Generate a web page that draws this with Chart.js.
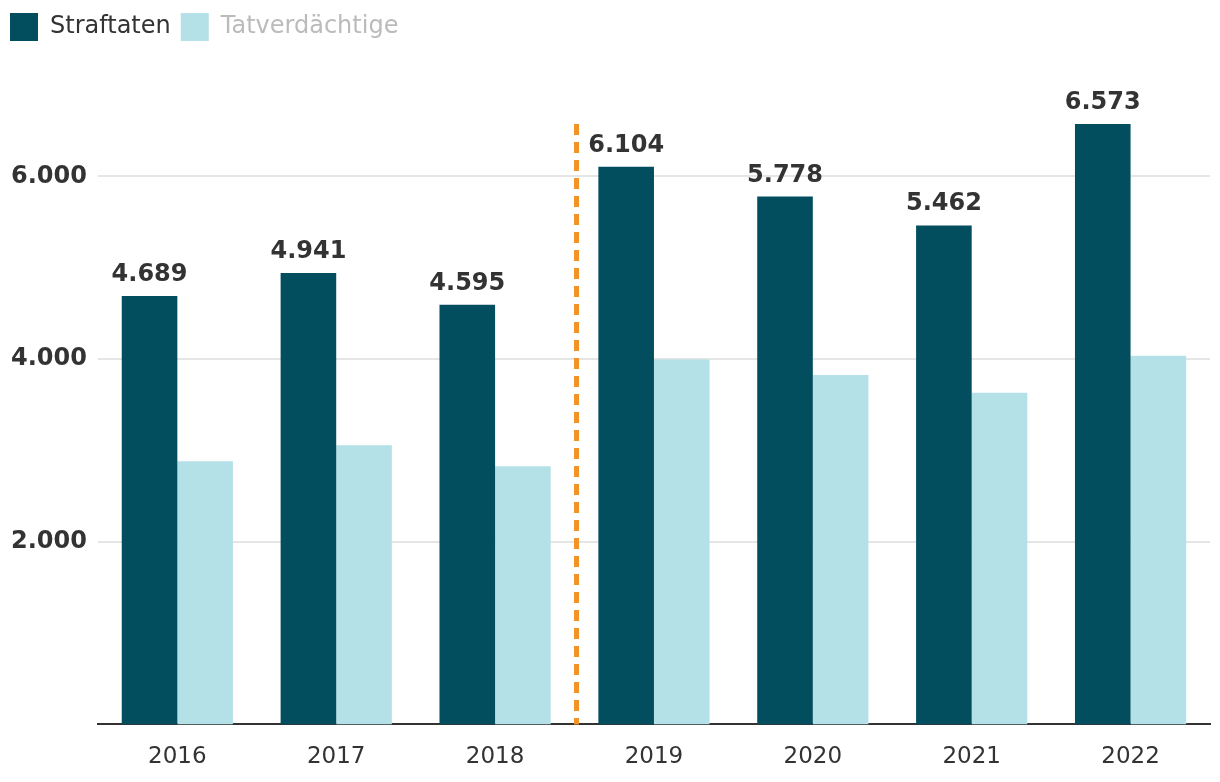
<!DOCTYPE html>
<html>
<head>
<meta charset="utf-8">
<script src="https://cdn.jsdelivr.net/npm/chart.js@4/dist/chart.umd.min.js"></script>
<style>
  html, body { margin: 0; padding: 0; background: #fff; }
  #wrap { width: 1220px; height: 782px; }
</style>
</head>
<body>
<div id="wrap"><canvas id="chart"></canvas></div>
<script>
const years = ['2016', '2017', '2018', '2019', '2020', '2021', '2022'];
const straftaten = [4689, 4941, 4595, 6104, 5778, 5462, 6573];
const tatverdaechtige = [2880, 3055, 2825, 3995, 3825, 3630, 4035];
const yTicks = [2000, 4000, 6000];

const DARK = '#024e5f';
const LIGHT = '#b3e1e7';
const TEXT = '#333333';

// German thousands separator
const fmt = n => String(n).replace(/\B(?=(\d{3})+(?!\d))/g, '.');

// extra space under the legend
const legendMargin = {
  id: 'legendMargin',
  beforeInit(chart) {
    const fit = chart.legend.fit;
    chart.legend.fit = function () {
      fit.bind(chart.legend)();
      this.height += 73;
    };
  }
};

// value labels above the dark bars
const valueLabels = {
  id: 'valueLabels',
  afterDatasetsDraw(chart) {
    const { ctx } = chart;
    const meta = chart.getDatasetMeta(0);
    ctx.save();
    ctx.font = 'bold 24px "DejaVu Sans"';
    ctx.fillStyle = TEXT;
    ctx.textAlign = 'center';
    ctx.textBaseline = 'alphabetic';
    meta.data.forEach((bar, i) => {
      ctx.fillText(fmt(straftaten[i]), bar.x, bar.y - 15);
    });
    ctx.restore();
  }
};

// dashed separator between 2018 and 2019
const separator = {
  id: 'separator',
  afterDatasetsDraw(chart) {
    const { ctx, chartArea, scales } = chart;
    const x = (scales.x.getPixelForValue(2) + scales.x.getPixelForValue(3)) / 2 + 2;
    ctx.save();
    ctx.strokeStyle = '#f39325';
    ctx.lineWidth = 5;
    ctx.setLineDash([11, 7]);
    ctx.beginPath();
    ctx.moveTo(x, chartArea.top);
    ctx.lineTo(x, chartArea.bottom);
    ctx.stroke();
    ctx.restore();
  }
};

new Chart(document.getElementById('chart'), {
  type: 'bar',
  data: {
    labels: years,
    datasets: [
      { label: 'Straftaten', data: straftaten, backgroundColor: DARK },
      { label: 'Tatverdächtige', data: tatverdaechtige, backgroundColor: LIGHT }
    ]
  },
  options: {
    responsive: true,
    maintainAspectRatio: false,
    animation: false,
    categoryPercentage: 0.7,
    barPercentage: 1,
    layout: { padding: { top: 3, right: 10, bottom: 0, left: 0 } },
    plugins: {
      tooltip: { enabled: false },
      legend: {
        position: 'top',
        align: 'start',
        labels: {
          boxWidth: 28,
          boxHeight: 28,
          padding: 10,
          font: { family: 'DejaVu Sans', size: 24 },
          generateLabels(chart) {
            return chart.data.datasets.map((ds, i) => ({
              text: ds.label,
              fillStyle: ds.backgroundColor,
              strokeStyle: ds.backgroundColor,
              lineWidth: 0,
              fontColor: i === 0 ? TEXT : '#bbbbbb',
              hidden: !chart.isDatasetVisible(i),
              datasetIndex: i
            }));
          }
        }
      }
    },
    scales: {
      x: {
        grid: { display: false },
        border: { display: true, color: TEXT, width: 2 },
        ticks: {
          color: TEXT,
          padding: 11,
          font: { family: 'DejaVu Sans', size: 23 }
        }
      },
      y: {
        z: 1,
        min: 0,
        max: Math.max(...straftaten),
        afterBuildTicks(scale) {
          scale.ticks = yTicks.map(v => ({ value: v }));
        },
        grid: { color: 'rgba(0,0,0,0.1)', lineWidth: 2, drawTicks: false },
        border: { display: false },
        ticks: {
          color: TEXT,
          padding: 11,
          font: { family: 'DejaVu Sans', size: 24, weight: 'bold' },
          callback: v => fmt(v)
        }
      }
    }
  },
  plugins: [legendMargin, valueLabels, separator]
});
</script>
</body>
</html>
